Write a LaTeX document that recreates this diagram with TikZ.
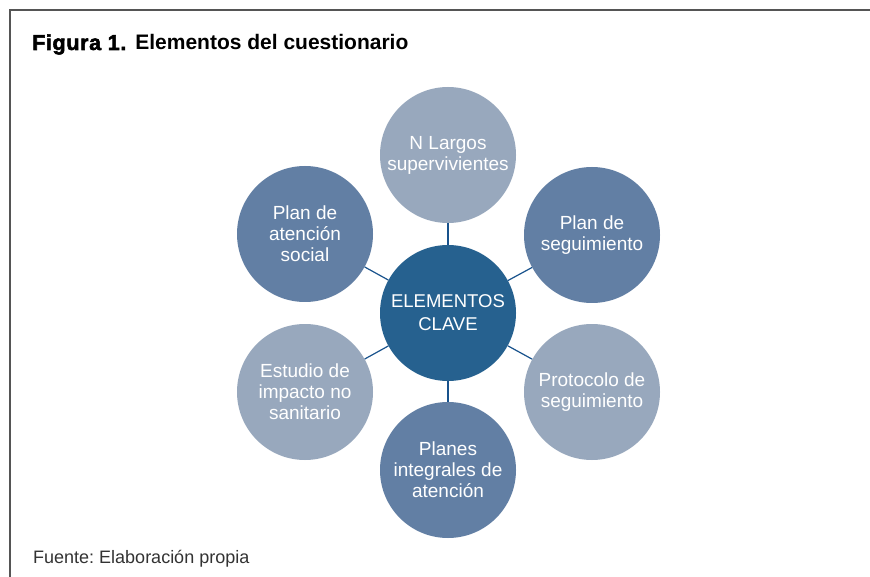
\documentclass[tikz,border=0pt]{standalone}
\usepackage{fontspec}
\setmainfont{Liberation Sans}
\newfontfamily\heavyfont{Liberation Sans}[BoldFeatures={FakeBold=2.5,LetterSpace=3}]
\usepackage{xcolor}
\definecolor{clave}{RGB}{38,97,143}
\definecolor{medio}{RGB}{98,127,164}
\definecolor{claro}{RGB}{152,168,189}
\definecolor{marco}{RGB}{85,85,85}
\definecolor{enlace}{RGB}{24,82,140}

\tikzset{
  bola/.style={circle, minimum size=136pt, inner sep=0pt, text=white, align=center,
    font=\fontsize{19}{21}\selectfont},
  enlace/.style={draw=enlace, line width=1.2pt}
}

\begin{document}
\frenchspacing
\begin{tikzpicture}[x=1pt,y=-1pt]
\useasboundingbox[fill=white] (0,0) rectangle (870,577);
% marco
\draw[marco, line width=1.5pt] (10,577) -- (10,10) -- (870,10);
\node[anchor=base west, inner sep=0pt] (titulo) at (32,50)
  {{\heavyfont\bfseries\fontsize{21.5}{22}\selectfont Figura 1.}\hspace{9pt}%
   {\bfseries\fontsize{21}{24}\selectfont Elementos del cuestionario}};

\node[bola, fill=clave, font=\fontsize{18.5}{23}\selectfont] (clave) at (448,313) {ELEMENTOS\\CLAVE};

\foreach \nm/\px/\py/\tono/\txt in {
    largos/448/155/claro/{N Largos\\supervivientes},
    plan/592/235/medio/{Plan de\\seguimiento},
    protocolo/592/392/claro/{Protocolo de\\seguimiento},
    planes/448/470/medio/{Planes\\integrales de\\atención},
    estudio/305/392/claro/{Estudio de\\impacto no\\sanitario},
    social/305/234/medio/{Plan de\\atención\\social}}{
    \node[bola, fill=\tono] (\nm) at (\px,\py) {\txt};
    \draw[enlace] (clave) -- (\nm);
}

\node[anchor=base west, inner sep=0pt, text=black!80, font=\fontsize{18}{20}\selectfont] (fuente) at (33,563)
  {Fuente: Elaboración propia};
\end{tikzpicture}
\end{document}
